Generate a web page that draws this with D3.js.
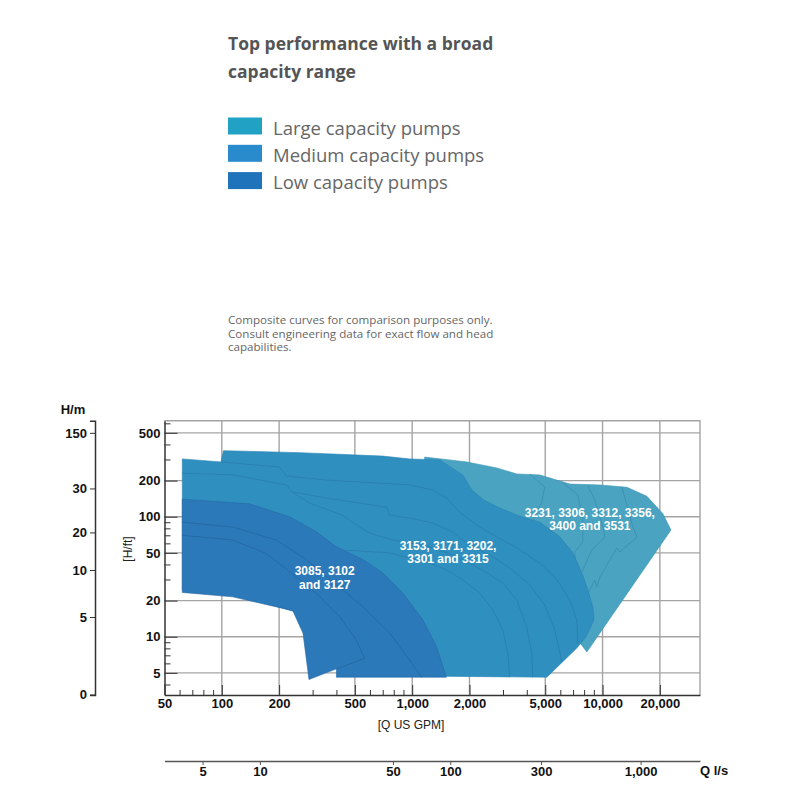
<!DOCTYPE html>
<html>
<head>
<meta charset="utf-8">
<script src="https://cdn.jsdelivr.net/npm/d3@7/dist/d3.min.js"></script>
<style>
  body { margin: 0; background: #fff; }
</style>
</head>
<body>
<div id="chart"></div>
<script>
// chart values (flow in US GPM, head in ft)
var titleLines = ["Top performance with a broad", "capacity range"];
var legendNames = ["Large capacity pumps", "Medium capacity pumps", "Low capacity pumps"];
var noteLines = ["Composite curves for comparison purposes only.",
                 "Consult engineering data for exact flow and head",
                 "capabilities."];

var gpmTicks = [50, 100, 200, 500, 1000, 2000, 5000, 10000, 20000];
var gpmMinor = [60, 70, 80, 90, 300, 400, 600, 700, 800, 900, 3000, 4000, 6000, 7000, 8000, 9000];
var ftTicks = [500, 200, 100, 50, 20, 10, 5];
var ftMinor = [600, 400, 300, 90, 80, 70, 60, 40, 30, 9, 8, 7, 6, 4];
var meterTicks = [150, 30, 20, 10, 5, 0];
var meterAtFt = [500, 172, 74, 36, 14.6, 3.3];
var lsTicks = [5, 10, 50, 100, 300, 1000];
var gpmPerLs = 15.85;

var largeOutline = [[1163,314],[1934,286],[2782,255],[3544,227],[4680,223],[6732,187],[9679,184],
  [13425,176],[17100,148],[20750,106],[22870,77.5],[8270,7.46],[7690,8.7],[7153,10.1],[4972,20.2],
  [2006,138],[1163,286]];
var largeCurves = [
  [[4148,227],[4972,177],[4796,133],[4300,92]],
  [[6110,195],[7415,152],[7877,94],[7877,61.5],[7153,50.8],[7328,29.7]],
  [[8370,180],[9111,138],[10040,82],[10283,67.7],[8785,52.8],[7877,36],[7415,29.7]],
  [[12640,176],[14430,82],[15150,67.7],[12330,50.8],[11890,54.9],[9679,31.4],[9333,26],[9111,29.7],[8170,21]]
];

var mediumOutline = [[62,303],[99,286],[102,355],[256,342],[700,320],[970,303],[1395,297],[1843,223],
  [2055,167],[2376,138],[2885,118],[3676,101],[4680,90],[5964,68],[6983,50],[7785,34],[8370,24.5],
  [8893,17.7],[9004,13.8],[8170,9.9],[7328,8.05],[5095,4.6],[1095,4.7],[368,5.8],[275,10.9],
  [244,16.1],[117,22.7],[62,24.5]];
var mediumCurves = [
  [[99,286],[201,259],[219,218],[355,202],[651,191],[970,184],[1282,167],[1518,143],[1777,109],
   [2264,82],[2782,68],[3676,53],[4680,41],[5751,30],[6732,20.2],[7328,13.8],[7415,8.7]],
  [[62,231],[114,223],[219,184],[233,161],[355,143],[530,130],[734,120],[762,103],[970,97.5],
   [1282,88.6],[1633,74.6],[2006,58],[2556,48],[3256,37.4],[4148,27],[4972,18.4],[5614,11.4],[6110,6.15]],
  [[233,161],[289,130],[431,103],[511,85],[598,73],[790,64],[1236,56],[1518,50],[1843,43.6],
   [2348,36],[2991,28],[3544,20.2],[4000,12],[4249,7.3],[4300,4.6]],
  [[416,53],[762,50],[1236,41],[1518,36],[1843,29.7],[2264,23.1],[2651,16.7],[2991,11.4],[3178,7.3],[3256,4.6]]
];

var lowOutline = [[62,140],[140,128],[227,100],[314,75],[400,56],[551,44],[702,34],[895,23],
  [1140,13.8],[1341,8.3],[1512,4.6],[400,4.6],[400,5.4],[287,4.4],[267,10.7],[236,16.5],
  [114,21.5],[62,23.4]];
var lowCurves = [
  [[62,90],[114,82],[193,64],[278,44],[400,27],[551,17.8],[762,10.7],[970,6.4],[1118,4.6]],
  [[62,70],[114,64],[171,49.5],[246,31.6],[314,23],[416,14.7],[509,9.4],[562,6.6],[400,5.4]]
];

var seriesLabels = [
  ["3085, 3102", "and 3127"],
  ["3153, 3171, 3202,", "3301 and 3315"],
  ["3231, 3306, 3312, 3356,", "3400 and 3531"]
];
var labelQ = [347, 1543, 8575];
var labelH = [31, 50.5, 95];

// styles
var legendColors = ["#21a1c3", "#298bcb", "#1e73ba"];
var fillColors = ["#4aa3c0", "#2f90bf", "#2b79b8"];
var lineColors = ["#3a93b4", "#2a81b2", "#266aa8"];
var boldFont = "'Liberation Sans', Arial, sans-serif";
var textFont = "'Open Sans', Lato, sans-serif";

var svg = d3.select("#chart")
  .append("svg")
    .attr("width", 800)
    .attr("height", 800);

// heading, legend, note
svg.append("g")
    .attr("font-family", textFont)
    .attr("font-weight", "bold")
    .attr("font-size", 17.5)
    .attr("fill", "#555")
  .selectAll("text")
  .data(titleLines)
  .join("text")
    .attr("x", 228)
    .attr("y", (d, i) => 50 + i * 27.5)
    .text(d => d);

var legend = svg.append("g")
  .selectAll("g")
  .data(legendNames)
  .join("g")
    .attr("transform", (d, i) => "translate(228," + (117.5 + i * 27.3) + ")");
legend.append("rect")
    .attr("width", 34)
    .attr("height", 17)
    .attr("fill", (d, i) => legendColors[i]);
legend.append("text")
    .attr("x", 45)
    .attr("y", 17)
    .attr("font-family", textFont)
    .attr("font-size", 18.5)
    .attr("fill", "#666")
    .text(d => d);

svg.append("g")
    .attr("font-family", textFont)
    .attr("font-size", 11.6)
    .attr("fill", "#666")
  .selectAll("text")
  .data(noteLines)
  .join("text")
    .attr("x", 228)
    .attr("y", (d, i) => 324 + i * 13.6)
    .text(d => d);

// scales
var x = d3.scaleLog().domain([50, 32500]).range([164.5, 700]);
var y = d3.scaleLog().domain([3.27, 631]).range([695, 420.7]);
var xLs = d3.scaleLog().domain(x.domain().map(d => d / gpmPerLs)).range(x.range());

var x0 = x.range()[0], x1 = x.range()[1], y0 = y.range()[0], y1 = y.range()[1];

// grid
var grid = svg.append("g")
    .attr("stroke", "#a4a4a4")
    .attr("stroke-width", 1.4);
grid.selectAll(".vg")
  .data(gpmTicks.slice(1))
  .join("line")
    .attr("class", "vg")
    .attr("x1", d => x(d)).attr("x2", d => x(d))
    .attr("y1", y1).attr("y2", y0);
grid.selectAll(".hg")
  .data(ftTicks)
  .join("line")
    .attr("class", "hg")
    .attr("x1", x0).attr("x2", x1)
    .attr("y1", d => y(d)).attr("y2", d => y(d));
grid.append("path")
    .attr("fill", "none")
    .attr("d", "M" + x0 + "," + y1 + "H" + x1 + "V" + y0);

// pump areas, large behind, low in front
var line = d3.line()
  .x(d => x(d[0]))
  .y(d => y(d[1]));

var families = [
  {outline: largeOutline, curves: largeCurves},
  {outline: mediumOutline, curves: mediumCurves},
  {outline: lowOutline, curves: lowCurves}
];

families.forEach(function(f, i) {
  var g = svg.append("g");
  g.append("path")
      .attr("d", line(f.outline) + "Z")
      .attr("fill", fillColors[i])
      .attr("stroke", lineColors[i])
      .attr("stroke-width", 0.6)
      .attr("stroke-linejoin", "round");
  g.selectAll(".curve")
    .data(f.curves)
    .join("path")
      .attr("class", "curve")
      .attr("d", line)
      .attr("fill", "none")
      .attr("stroke", lineColors[i])
      .attr("stroke-width", 1)
      .attr("stroke-linejoin", "round");
});

// series labels
svg.append("g")
    .attr("font-family", boldFont)
    .attr("font-weight", "bold")
    .attr("font-size", 12)
    .attr("fill", "#fff")
    .attr("text-anchor", "middle")
  .selectAll("text")
  .data(seriesLabels.flatMap((lines, i) => lines.map((t, j) => ({t: t, i: i, j: j}))))
  .join("text")
    .attr("x", d => x(labelQ[d.i]))
    .attr("y", d => y(labelH[d.i]) + (d.j - 0.5) * 13.3 + 4.3)
    .text(d => d.t);

// axes
function styleAxis(g, size) {
  g.selectAll("text")
    .attr("font-family", boldFont)
    .attr("font-weight", "bold")
    .attr("font-size", size)
    .attr("fill", "#111");
  g.selectAll("line").attr("stroke", "#333");
  g.select(".domain").attr("stroke", "#333").attr("stroke-width", 1.5);
}

svg.append("g")
    .attr("transform", "translate(0," + y0 + ")")
    .call(d3.axisBottom(x).tickValues(gpmMinor).tickSize(-5).tickSizeOuter(0).tickFormat(""))
    .call(g => g.select(".domain").remove())
    .call(g => g.selectAll("line").attr("stroke", "#333"));
svg.append("g")
    .attr("transform", "translate(0," + y0 + ")")
    .call(d3.axisBottom(x).tickValues(gpmTicks).tickSize(-10).tickSizeOuter(0)
      .tickPadding(4).tickFormat(d3.format(",")))
    .call(g => styleAxis(g, 13));

svg.append("g")
    .attr("transform", "translate(" + x0 + ",0)")
    .call(d3.axisLeft(y).tickValues(ftMinor).tickSize(-6).tickSizeOuter(0).tickFormat(""))
    .call(g => g.select(".domain").remove())
    .call(g => g.selectAll("line").attr("stroke", "#333"));
svg.append("g")
    .attr("transform", "translate(" + x0 + ",0)")
    .call(d3.axisLeft(y).tickValues(ftTicks).tickSize(-13).tickSizeOuter(0)
      .tickPadding(4).tickFormat(d3.format(",")))
    .call(g => styleAxis(g, 13));

// metric head axis
svg.append("g")
    .attr("transform", "translate(95,0)")
    .call(d3.axisLeft(y).tickValues(meterAtFt).tickSize(5).tickSizeOuter(5)
      .tickPadding(3).tickFormat((d, i) => meterTicks[i]))
    .call(g => styleAxis(g, 13));

// l/s flow axis
svg.append("g")
    .attr("transform", "translate(0,761)")
    .call(d3.axisBottom(xLs).tickValues(lsTicks).tickSize(4).tickSizeOuter(0)
      .tickPadding(2).tickFormat(d3.format(",")))
    .call(g => styleAxis(g, 13))
    .call(g => g.selectAll("line").attr("stroke", "#555"))
    .call(g => g.select(".domain").attr("stroke", "#555"));

// axis titles
svg.append("text")
    .attr("x", 73).attr("y", 414)
    .attr("text-anchor", "middle")
    .attr("font-family", boldFont).attr("font-weight", "bold").attr("font-size", 13)
    .attr("fill", "#111")
    .text("H/m");
svg.append("text")
    .attr("x", 700).attr("y", 775)
    .attr("font-family", boldFont).attr("font-weight", "bold").attr("font-size", 13)
    .attr("fill", "#111")
    .text("Q l/s");
svg.append("text")
    .attr("x", 411).attr("y", 729)
    .attr("text-anchor", "middle")
    .attr("font-family", boldFont).attr("font-size", 12)
    .attr("fill", "#222")
    .text("[Q US GPM]");
svg.append("text")
    .attr("transform", "translate(132,549) rotate(-90)")
    .attr("text-anchor", "middle")
    .attr("font-family", boldFont).attr("font-size", 12)
    .attr("fill", "#222")
    .text("[H/ft]");
</script>
</body>
</html>
